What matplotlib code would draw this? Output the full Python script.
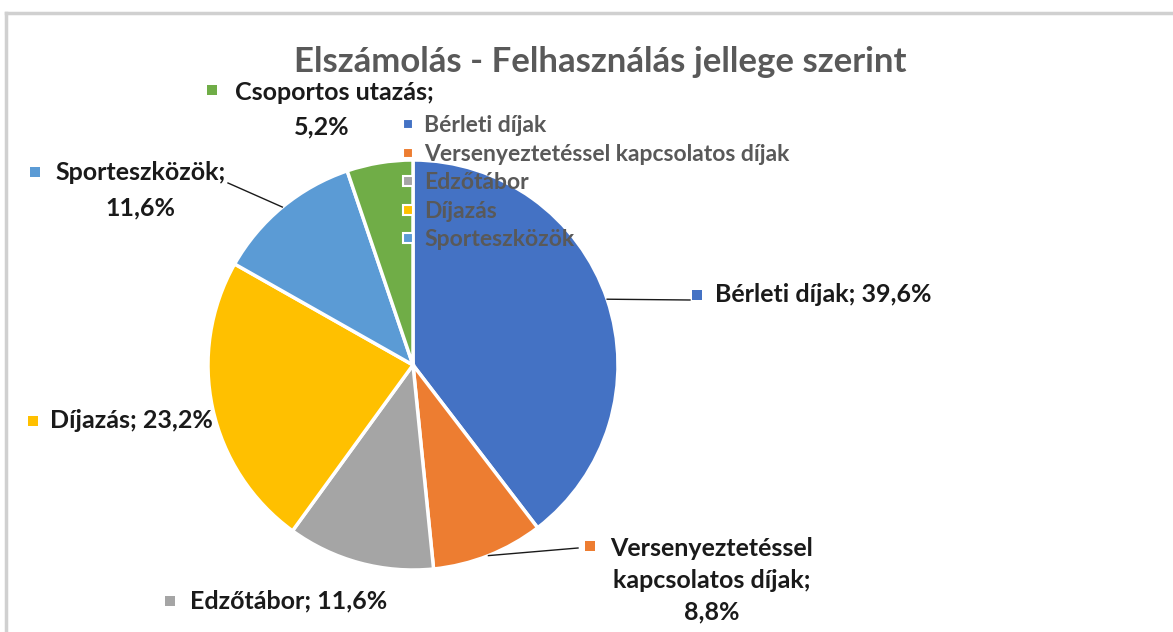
import numpy as np
import matplotlib.pyplot as plt
from matplotlib.lines import Line2D

plt.rcParams['font.family'] = ['Lato', 'DejaVu Sans']

# data
categories = ['Bérleti díjak', 'Versenyeztetéssel kapcsolatos díjak', 'Edzőtábor',
              'Díjazás', 'Sporteszközök', 'Csoportos utazás']
values = [39.6, 8.8, 11.6, 23.2, 11.6, 5.2]
colors = ['#4472C4', '#ED7D31', '#A5A5A5', '#FFC000', '#5B9BD5', '#70AD47']

W, H = 1173, 632
fig = plt.figure(figsize=(W / 100, H / 100), dpi=100)
ax = fig.add_axes([0, 0, 1, 1])

cx, cy, r = 413, H - 365, 205
wedges, _ = ax.pie(values, colors=colors, startangle=90, counterclock=False,
                   center=(cx, cy), radius=r, frame=True,
                   wedgeprops=dict(edgecolor='white', linewidth=2.5))
ax.set_xlim(0, W)
ax.set_ylim(0, H)
ax.set_aspect('equal')
ax.axis('off')

# frame lines of the chart area
fig.add_artist(Line2D([6 / W, 1], [1 - 13 / H, 1 - 13 / H], color='#D0D0D0', lw=2.5))
fig.add_artist(Line2D([6 / W, 6 / W], [0, 1 - 13 / H], color='#D0D0D0', lw=2.5))

ax.text(600, H - 62, 'Elszámolás - Felhasználás jellege szerint', ha='center', va='center',
        fontsize=25, fontweight='bold', color='#595959')

def fmt(v):
    return f'{v:.1f}'.replace('.', ',') + '%'

# label layout, pixel coords measured from top
label_layout = [
    dict(marker=(697, 295), lines=[(715, 295, 'left')], text='{n}; {v}', leader=(690, 300)),
    dict(marker=(590, 546), lines=[(712, 548, 'center'), (712, 580, 'center'), (712, 612, 'center')],
         text='Versenyeztetéssel\nkapcsolatos díjak;\n{v}', leader=(578, 548)),
    dict(marker=(170, 601), lines=[(190, 601, 'left')], text='{n}; {v}', leader=None),
    dict(marker=(33, 421), lines=[(50, 421, 'left')], text='{n}; {v}', leader=None),
    dict(marker=(35, 172), lines=[(55, 172, 'left'), (140, 208, 'center')],
         text='{n};\n{v}', leader=(228, 183)),
    dict(marker=(212, 90), lines=[(235, 92, 'left'), (322, 127, 'center')],
         text='{n};\n{v}', leader=None),
]

cum = np.cumsum([0] + values)
for i, (name, val, col, lay) in enumerate(zip(categories, values, colors, label_layout)):
    txt = lay['text'].format(n=name, v=fmt(val)).split('\n')
    for (x, y, ha), line in zip(lay['lines'], txt):
        ax.text(x, H - y, line, ha=ha, va='center', fontsize=18, fontweight='bold',
                color='#1a1a1a', zorder=5)
    mx, my = lay['marker']
    ax.scatter([mx], [H - my], marker='s', s=55, color=col, zorder=5, linewidths=0)
    if lay['leader'] is not None:
        mid = np.deg2rad(90 - (cum[i] + val / 2) / 100 * 360)
        ex, ey = cx + r * np.cos(mid), cy + r * np.sin(mid)
        lx, ly = lay['leader']
        ax.plot([ex, lx], [ey, H - ly], color='#1a1a1a', lw=1, zorder=4)

# legend (last series cut off, overlapping the pie)
handles = [Line2D([], [], marker='s', ls='', markersize=7.5, markerfacecolor=c,
                  markeredgecolor='white', markeredgewidth=1.5) for c in colors[:5]]
leg = ax.legend(handles, categories[:5], loc='upper left', bbox_to_anchor=(400 / W, 1 - 115 / H),
                frameon=False, fontsize=16.5, labelspacing=0.33, handlelength=0.7,
                handletextpad=0.35, borderaxespad=0, borderpad=0)
for t in leg.get_texts():
    t.set_color('#595959')
    t.set_fontweight('bold')
leg.set_zorder(6)

fig.savefig('out.png', dpi=100)
